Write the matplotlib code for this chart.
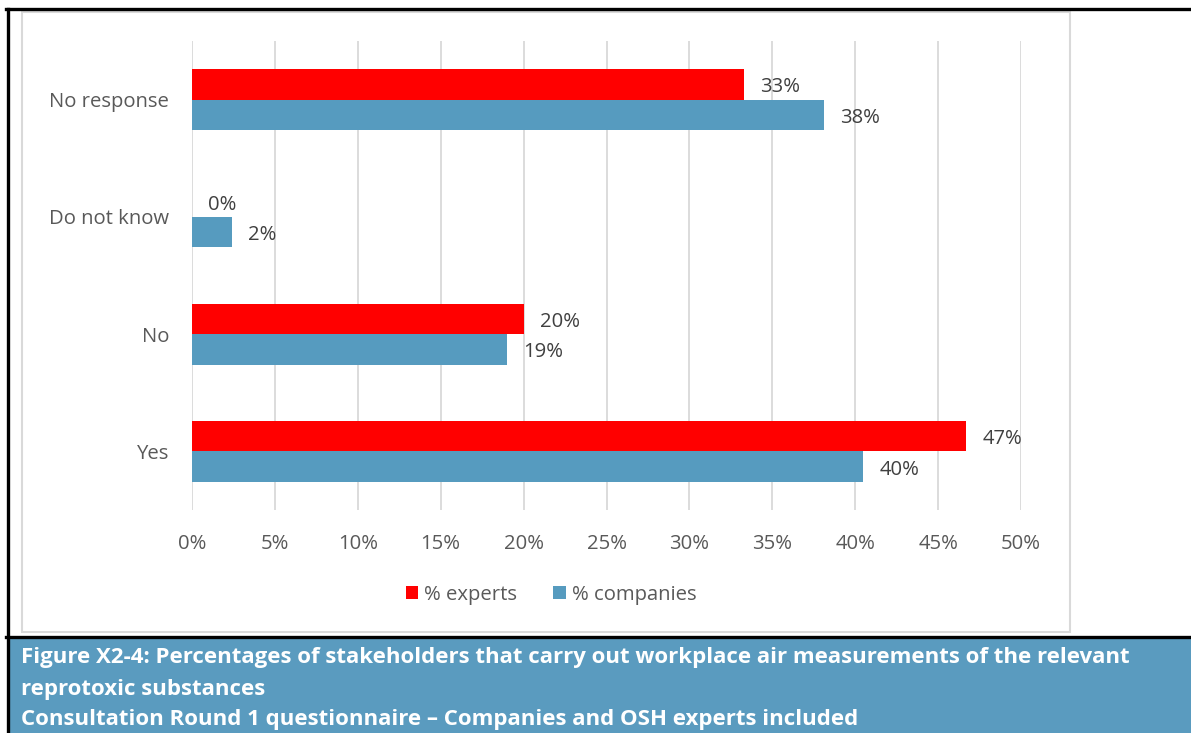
import matplotlib
matplotlib.use("Agg")
import matplotlib.pyplot as plt
from matplotlib.patches import Rectangle
from matplotlib.lines import Line2D

# Survey results
categories = ["Yes", "No", "Do not know", "No response"]
experts = [46.7, 20.0, 0.0, 33.3]
companies = [40.5, 19.0, 2.4, 38.1]
series_names = ["% experts", "% companies"]
xticks = [0, 5, 10, 15, 20, 25, 30, 35, 40, 45, 50]

caption_lines = [
    "Figure X2-4: Percentages of stakeholders that carry out workplace air measurements of the relevant",
    "reprotoxic substances",
    "Consultation Round 1 questionnaire \u2013 Companies and OSH experts included",
]

RED = "#FF0000"
BLUE = "#569BBF"
BAND = "#5A9BBF"
GRID = "#D9D9D9"
TEXT = "#595959"
FONT = ["Open Sans", "DejaVu Sans"]

W, H = 1191, 733
fig = plt.figure(figsize=(W / 100, H / 100), dpi=100)
plt.rcParams["font.family"] = FONT


def fx(px):
    return px / W


def fy(py):
    return 1 - py / H


ax = fig.add_axes([fx(192), fy(510), fx(1021) - fx(192), fy(41) - fy(510)])

h = 0.261
ypos = list(range(len(categories)))
ax.barh([y + h / 2 for y in ypos], experts, height=h, color=RED, label=series_names[0], zorder=3)
ax.barh([y - h / 2 for y in ypos], companies, height=h, color=BLUE, label=series_names[1], zorder=3)

for y, v in zip(ypos, experts):
    ax.annotate(f"{v:.0f}%", (v, y + h / 2), xytext=(16, -3), textcoords="offset pixels",
                va="center", ha="left", fontsize=14.6, color="#404040")
for y, v in zip(ypos, companies):
    ax.annotate(f"{v:.0f}%", (v, y - h / 2), xytext=(16, -3), textcoords="offset pixels",
                va="center", ha="left", fontsize=14.6, color="#404040")

ax.set_xlim(0, 50)
ax.set_ylim(-0.5, len(categories) - 0.5)
ax.set_xticks(xticks)
ax.set_xticklabels([f"{t}%" for t in xticks])
ax.set_yticks(ypos)
ax.set_yticklabels(categories)
ax.tick_params(axis="x", length=0, pad=17, labelsize=14.6, labelcolor=TEXT)
ax.tick_params(axis="y", length=0, pad=16.5, labelsize=14.6, labelcolor=TEXT)
ax.grid(axis="x", color=GRID, linewidth=1.3, zorder=0)
for s in ax.spines.values():
    s.set_visible(False)

leg = fig.legend(loc="center", bbox_to_anchor=(fx(551), fy(595)), ncol=2, frameon=False,
                 fontsize=14.6, handlelength=0.6, handleheight=0.6, handletextpad=0.3,
                 columnspacing=1.8, labelcolor=TEXT)

# Chart frame
fig.add_artist(Rectangle((fx(22), fy(632)), fx(1070) - fx(22), fy(12) - fy(632),
                         transform=fig.transFigure, fill=False, edgecolor=GRID, linewidth=1.5))

# Caption band
fig.add_artist(Rectangle((fx(8), 0), 1 - fx(8), fy(638), transform=fig.transFigure,
                         facecolor=BAND, edgecolor="none"))
for i, line in enumerate(caption_lines):
    fig.text(fx(21), fy(658 + 31 * i), line, color="white", fontsize=16, fontweight="bold",
             va="center", ha="left")

# Outer borders
fig.add_artist(Line2D([fx(6), 1], [fy(9), fy(9)], transform=fig.transFigure, color="black", linewidth=2.4))
fig.add_artist(Line2D([fx(7.5), fx(7.5)], [0, fy(9)], transform=fig.transFigure, color="black", linewidth=2.4))
fig.add_artist(Line2D([fx(6), 1], [fy(637), fy(637)], transform=fig.transFigure, color="black", linewidth=2.4))

fig.savefig("out.png", dpi=100)
